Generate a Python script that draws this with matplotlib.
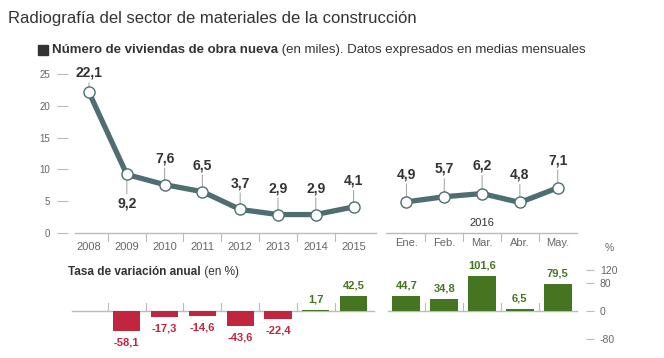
import numpy as np
import matplotlib.pyplot as plt
from matplotlib.patches import Rectangle

plt.rcParams['font.family'] = ['Liberation Sans', 'DejaVu Sans']
plt.rcParams['axes.unicode_minus'] = False

# Data
years = ['2008', '2009', '2010', '2011', '2012', '2013', '2014', '2015']
year_values = [22.1, 9.2, 7.6, 6.5, 3.7, 2.9, 2.9, 4.1]
months = ['Ene.', 'Feb.', 'Mar.', 'Abr.', 'May.']
month_values = [4.9, 5.7, 6.2, 4.8, 7.1]
year_change = [-0.5, -58.1, -17.3, -14.6, -43.6, -22.4, 1.7, 42.5]
month_change = [44.7, 34.8, 101.6, 6.5, 79.5]
show_year_change_label = [False, True, True, True, True, True, True, True]

# colours
LINE = '#4e6e71'
RED = '#c22540'
GREEN = '#467521'
DARK = '#333333'
GREY = '#666666'
LIGHT = '#bbbbbb'

xy_years = np.arange(len(years))
xy_months = 8.4 + np.arange(len(months))
xlim = (-0.556, 13.15)

fig = plt.figure(figsize=(6.64, 3.58), dpi=100)

# Top chart: line
ax = fig.add_axes([68 / 664, 1 - 233 / 358, 518 / 664, 159 / 358])
ax.set_facecolor('none')
ax.set_xlim(*xlim)
ax.set_ylim(0, 25)
for s in ax.spines.values():
    s.set_visible(False)
ax.set_yticks([0, 5, 10, 15, 20, 25])
ax.tick_params(axis='y', length=8, width=0.8, color=LIGHT, pad=5,
               labelsize=7, labelcolor=GREY)
ax.set_xticks([])

for xs, vals in [(xy_years, year_values), (xy_months, month_values)]:
    ax.plot(xs, vals, color=LINE, lw=3.8, solid_capstyle='round', zorder=4, clip_on=False)
    ax.plot(xs, vals, 'o', ms=8, mfc='white', mec=LINE, mew=1.0, zorder=5, clip_on=False)

def point_label(x, v, dy):
    ax.annotate(f'{v:.1f}'.replace('.', ','), xy=(x, v), xytext=(0, dy),
                textcoords='offset points', ha='center', va='center',
                fontsize=10, fontweight='bold', color=DARK, zorder=3,
                arrowprops=dict(arrowstyle='-', color='#aaaaaa', lw=0.8,
                                shrinkA=0, shrinkB=0))

for i, (x, v) in enumerate(zip(xy_years, year_values)):
    if i == 0:
        dy = 14
    elif i == 1:
        dy = -21
    else:
        dy = 19
    point_label(x, v, dy)
for x, v in zip(xy_months, month_values):
    point_label(x, v, 20)

# axis lines and separators
ax.plot([-0.37, 7.59], [0, 0], color=LIGHT, lw=1, clip_on=False)
ax.plot([7.86, 12.91], [0, 0], color=LIGHT, lw=1, clip_on=False)
for xs in [xy_years, xy_months]:
    for x in xs[:-1] + 0.5:
        ax.plot([x, x], [0, -1.3], color=LIGHT, lw=0.8, clip_on=False)
for x, lab in zip(xy_years, years):
    ax.text(x, -2.2, lab, ha='center', va='center', fontsize=8, color=GREY)
for x, lab in zip(xy_months, months):
    ax.text(x, -1.6, lab, ha='center', va='center', fontsize=8, color=GREY)
ax.text(xy_months[2], 1.6, '2016', ha='center', va='center', fontsize=8, color=DARK)

# Bottom chart: bars
bx = fig.add_axes([68 / 664, 1 - 338.6 / 358, 518 / 664, 69 / 358])
bx.set_facecolor('none')
bx.set_xlim(*xlim)
bx.set_ylim(-80, 120)
for s in bx.spines.values():
    s.set_visible(False)
bx.set_xticks([])
bx.yaxis.tick_right()
bx.set_yticks([120, 80, 0, -80])
bx.tick_params(axis='y', length=6, width=0.8, color=LIGHT, pad=4,
               labelsize=7.5, labelcolor=GREY)

yc = np.array(year_change)
bx.bar(xy_years, yc, width=0.72, color=np.where(yc < 0, RED, GREEN), zorder=3)
bx.bar(xy_months, month_change, width=0.74, color=GREEN, zorder=3)
bx.plot([-0.45, 7.55], [0, 0], color=LIGHT, lw=1, zorder=2)
bx.plot([7.9, 12.9], [0, 0], color=LIGHT, lw=1, zorder=2)
for xs in [xy_years, xy_months]:
    for x in xs[:-1] + 0.5:
        bx.plot([x, x], [0, 22], color=LIGHT, lw=0.8, zorder=2)

def bar_label(x, v, color):
    txt = f'{v:.1f}'.replace('.', ',')
    if v < 0:
        bx.annotate(txt, xy=(x, v), xytext=(0, -5), textcoords='offset points',
                    ha='center', va='top', fontsize=8, fontweight='bold', color=color)
    else:
        bx.annotate(txt, xy=(x, v), xytext=(0, 4), textcoords='offset points',
                    ha='center', va='bottom', fontsize=8, fontweight='bold', color=color)

for x, v, show in zip(xy_years, year_change, show_year_change_label):
    if show:
        bar_label(x, v, RED if v < 0 else GREEN)
for x, v in zip(xy_months, month_change):
    bar_label(x, v, GREEN)

fig.text(609 / 664, 1 - 248 / 358, '%', ha='center', va='center', fontsize=7.5, color=GREY)

# Titles
fig.text(8 / 664, 1 - 18 / 358, 'Radiografía del sector de materiales de la construcción',
         ha='left', va='center', fontsize=12, color=DARK)
fig.patches.append(Rectangle((38 / 664, 1 - 55 / 358), 10 / 664, 10 / 358,
                             transform=fig.transFigure, color=DARK))
t1 = fig.text(52 / 664, 1 - 50 / 358, 'Número de viviendas de obra nueva',
              ha='left', va='center', fontsize=9.5, fontweight='bold', color=DARK)
bx.annotate(' (en miles). Datos expresados en medias mensuales', xy=(1, 0),
            xycoords=t1, va='bottom', ha='left', fontsize=9.5, color=DARK)
t2 = fig.text(68 / 664, 1 - 272 / 358, 'Tasa de variación anual',
              ha='left', va='center', fontsize=8.5, fontweight='bold', color=DARK)
bx.annotate(' (en %)', xy=(1, 0), xycoords=t2, va='bottom', ha='left',
            fontsize=8.5, color=DARK)

fig.savefig('out.png', dpi=100)
